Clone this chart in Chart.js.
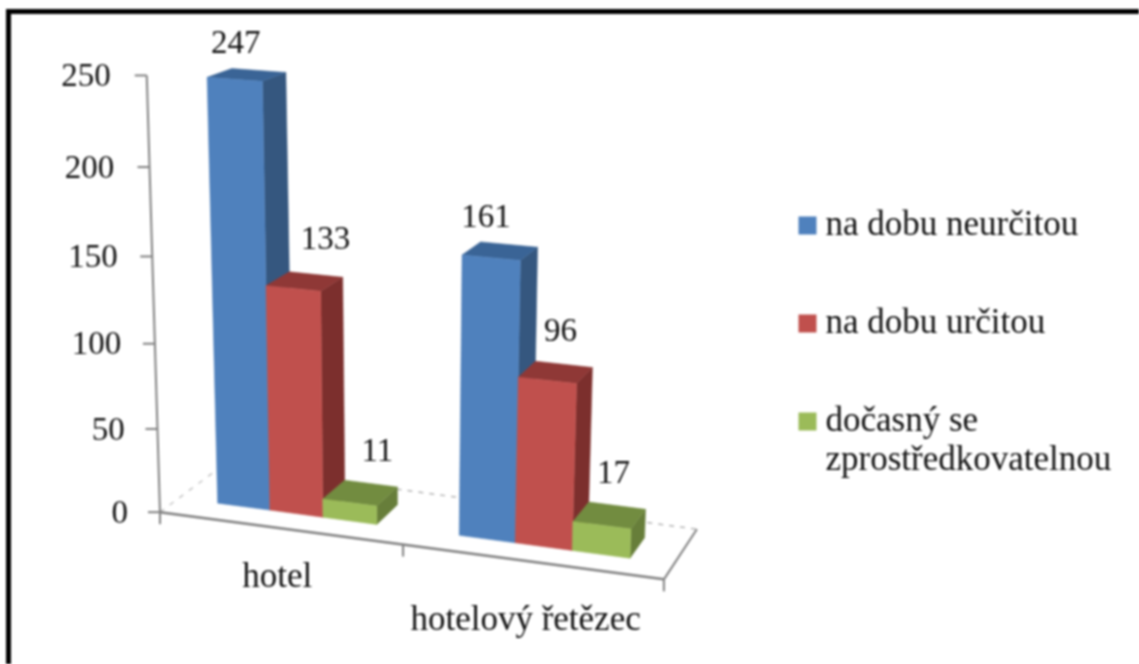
<!DOCTYPE html>
<html>
<head>
<meta charset="utf-8">
<style>
html,body{margin:0;padding:0;background:#fff;overflow:hidden}
canvas{display:block;filter:blur(0.8px)}
</style>
<script src="https://cdn.jsdelivr.net/npm/chart.js@4"></script>
</head>
<body>
<canvas id="c" width="1139" height="664"></canvas>
<script>
const categories = ['hotel', ['', 'hotelový řetězec']];
const seriesNames = ['na dobu neurčitou', 'na dobu určitou', ['dočasný se', 'zprostředkovatelnou']];
const indefinite = [247, 161];
const fixedTerm = [133, 96];
const agency = [11, 17];
const yTicksMax = 250;
const yTickStep = 50;

const FONT = '"Liberation Serif","Times New Roman",serif';
const INK = '#111';
const AXIS = '#808080';
const FACES = [
  {front:'#4F81BD', side:'#35577F', top:'#3A6496'},
  {front:'#C0504D', side:'#7C2F2D', top:'#8F3836'},
  {front:'#9BBB59', side:'#677E3A', top:'#728C40'}
];
const LABEL_NUDGE = [[[-11,-31],[-14,-33]],[[21,-41],[5,-40]],[[17,-41],[4,-41]]];

// Perspective of the 3-D view: where the plot rectangle lands on the page
const QUAD = [[179,498],[674,564],[693,106],[166,69]];
const VP = [1235,-289], DEPTH_STEP = 0.024;
const D_FRONT = -0.75, D_BACK = 1.7;

function homography(q){
  const [[x0,y0],[x1,y1],[x2,y2],[x3,y3]] = q;
  const sx=x0-x1+x2-x3, sy=y0-y1+y2-y3, dx1=x1-x2, dx2=x3-x2, dy1=y1-y2, dy2=y3-y2;
  const den=dx1*dy2-dx2*dy1;
  const g=(sx*dy2-dx2*sy)/den, h=(dx1*sy-sx*dy1)/den;
  return {a:x1-x0+g*x1,b:x3-x0+h*x3,c:x0,d:y1-y0+g*y1,e:y3-y0+h*y3,f:y0,g,h};
}
const HM = homography(QUAD);
function project(chart,px,py,depth){
  const A = chart.chartArea;
  const s=(px-A.left)/(A.right-A.left), t=(A.bottom-py)/(A.bottom-A.top);
  const w=HM.g*s+HM.h*t+1;
  const X=(HM.a*s+HM.b*t+HM.c)/w, Y=(HM.d*s+HM.e*t+HM.f)/w;
  const k=DEPTH_STEP*depth;
  return [X+k*(VP[0]-X), Y+k*(VP[1]-Y)];
}
function poly(ctx,pts,fill){
  ctx.beginPath();
  pts.forEach((p,i)=> i?ctx.lineTo(p[0],p[1]):ctx.moveTo(p[0],p[1]));
  ctx.closePath();
  ctx.fillStyle=fill; ctx.fill();
  ctx.strokeStyle=fill; ctx.lineWidth=0.5; ctx.stroke();
}
function line(ctx,a,b,color,w,dash){
  ctx.beginPath(); ctx.setLineDash(dash||[]);
  ctx.moveTo(a[0],a[1]); ctx.lineTo(b[0],b[1]);
  ctx.strokeStyle=color; ctx.lineWidth=w; ctx.stroke(); ctx.setLineDash([]);
}

const view3d = {
  id:'view3d',
  afterLayout(chart){
    const L=chart.legend, o=chart.options.plugins.view3d;
    L.left=o.legendLeft; L.right=chart.width; L.width=L.right-L.left;
    L.top+=o.legendShift; L.bottom=chart.height;
  },
  beforeDraw(chart){
    const ctx=chart.ctx;
    ctx.save();
    ctx.fillStyle='#fff'; ctx.fillRect(0,0,chart.width,chart.height);
    ctx.fillStyle='#000';
    ctx.fillRect(6,9,chart.width-6,5);
    ctx.fillRect(6,9,5,chart.height-9);
    ctx.restore();
  },
  beforeDatasetsDraw(chart){
    const ctx=chart.ctx, A=chart.chartArea, ys=chart.scales.y;
    ctx.save();
    const y0=ys.getPixelForValue(0);
    const fl=project(chart,A.left,y0,D_FRONT), fr=project(chart,A.right,y0,D_FRONT);
    const bl=project(chart,A.left,y0,D_BACK), br=project(chart,A.right,y0,D_BACK);
    // floor and back edges
    line(ctx,fl,bl,'#c4c4c4',1.5,[5,7]);
    line(ctx,bl,br,'#b5b5b5',1.5,[5,6]);
    line(ctx,fr,br,AXIS,2);
    line(ctx,fl,fr,AXIS,2.5);
    // value axis, its ticks and labels
    const top=project(chart,A.left,ys.getPixelForValue(yTicksMax),D_FRONT);
    line(ctx,fl,top,AXIS,2);
    ctx.font='33px '+FONT; ctx.fillStyle=INK; ctx.textAlign='right'; ctx.textBaseline='middle';
    ys.ticks.forEach(t=>{
      const p=project(chart,A.left,ys.getPixelForValue(t.value),D_FRONT);
      line(ctx,p,[p[0]-12,p[1]],AXIS,2);
      ctx.fillText(t.label,p[0]-32-4*t.value/yTicksMax,p[1]+2);
    });
    // category ticks
    [A.left,(A.left+A.right)/2,A.right].forEach(x=>{
      const p=project(chart,x,y0,D_FRONT);
      line(ctx,p,[p[0],p[1]+12],AXIS,2);
    });
    // boxes, left to right
    const count=categories.length;
    for(let c=0;c<count;c++){
      chart.data.datasets.forEach((ds,i)=>{
        const el=chart.getDatasetMeta(i).data[c];
        const L=el.x-el.width/2, R=el.x+el.width/2, T=el.y, B=el.base, f=FACES[i];
        const ftl=project(chart,L,T,0), ftr=project(chart,R,T,0), fbl=project(chart,L,B,0), fbr=project(chart,R,B,0);
        const btl=project(chart,L,T,1), btr=project(chart,R,T,1), bbr=project(chart,R,B,1);
        poly(ctx,[ftr,btr,bbr,fbr],f.side);
        poly(ctx,[ftl,btl,btr,ftr],f.top);
        poly(ctx,[ftl,ftr,fbr,fbl],f.front);
      });
    }
    // value labels
    ctx.font='33px '+FONT; ctx.fillStyle=INK; ctx.textAlign='center'; ctx.textBaseline='middle';
    for(let c=0;c<count;c++){
      chart.data.datasets.forEach((ds,i)=>{
        const el=chart.getDatasetMeta(i).data[c];
        const p=project(chart,el.x,el.y,0.5), n=LABEL_NUDGE[i][c];
        ctx.fillText(String(ds.data[c]),p[0]+n[0],p[1]+n[1]);
      });
    }
    ctx.restore();
    return false;
  }
};

new Chart(document.getElementById('c'),{
  type:'bar',
  data:{
    labels:categories,
    datasets:[
      {label:seriesNames[0],data:indefinite,backgroundColor:FACES[0].front},
      {label:seriesNames[1],data:fixedTerm,backgroundColor:FACES[1].front},
      {label:seriesNames[2],data:agency,backgroundColor:FACES[2].front}
    ]
  },
  plugins:[view3d],
  options:{
    responsive:false,
    animation:false,
    events:[],
    categoryPercentage:0.6667,
    barPercentage:1,
    layout:{padding:{left:153,right:112,top:78,bottom:20}},
    scales:{
      x:{
        grid:{display:false},
        border:{display:false},
        afterFit(s){s.height=131;},
        ticks:{color:INK,font:{family:FONT,size:35,lineHeight:1.23},padding:35,maxRotation:0,autoSkip:false}
      },
      y:{
        display:false,
        min:0,max:yTicksMax,
        ticks:{stepSize:yTickStep}
      }
    },
    plugins:{
      tooltip:{enabled:false},
      view3d:{legendShift:67,legendLeft:744},
      legend:{
        position:'right',align:'start',
        labels:{
          color:INK,
          font:{family:FONT,size:35,lineHeight:1.13},
          usePointStyle:true,pointStyle:'rect',
          boxWidth:1,boxHeight:18,padding:63
        }
      }
    }
  }
});
</script>
</body>
</html>
